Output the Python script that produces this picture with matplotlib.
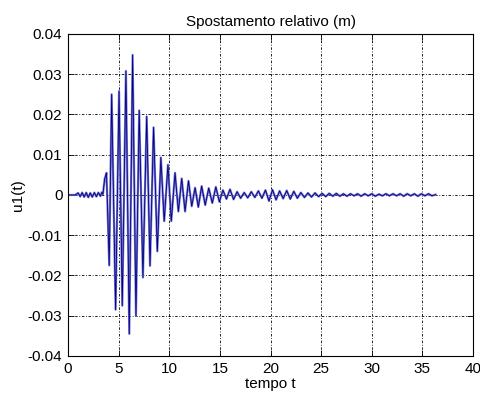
import matplotlib
matplotlib.use("Agg")
import matplotlib.pyplot as plt
import numpy as np

# extrema (time in s, displacement in m)
t_pts = [0.0, 0.7, 1.0, 1.2, 1.4, 1.6, 1.8, 2.0, 2.2, 2.4, 2.6, 2.8, 3.0, 3.2, 3.35, 3.45,
         3.62, 3.80, 4.07, 4.31, 4.70, 5.04, 5.36, 5.72, 6.05, 6.38, 6.71, 7.03, 7.40,
         7.77, 8.10, 8.45, 8.82, 9.17, 9.50, 9.87, 10.20, 10.57, 10.90, 11.23, 11.56,
         11.90, 12.22, 12.55, 12.87, 13.20, 13.55, 13.90, 14.25, 14.60, 14.95, 15.30,
         15.65, 16.00, 16.35, 16.70, 17.05, 17.40, 17.75, 18.10, 18.45, 18.80, 19.15,
         19.50, 19.85, 20.20, 20.55, 20.90, 21.25, 21.60, 21.95, 22.30, 22.65, 23.00,
         23.35, 23.70, 24.05, 24.40, 24.75, 25.10, 25.45, 25.80, 26.15, 26.50, 26.85,
         27.20, 27.55, 27.90, 28.25, 28.60, 28.95, 29.30, 29.65, 30.00, 30.35, 30.70,
         31.05, 31.40, 31.75, 32.10, 32.45, 32.80, 33.15, 33.50, 33.85, 34.20, 34.55,
         34.90, 35.25, 35.60, 35.95, 36.30]
u_pts = [0.0, 0.0, 0.0005, -0.0004, 0.0006, -0.0005, 0.0006, -0.0006, 0.0005, -0.0005, 0.0006, -0.0004, 0.0006, -0.0003, 0.0007, 0.0002,
         0.0040, 0.0055, -0.0175, 0.0250, -0.0285, 0.0258, -0.0275, 0.0308, -0.0345, 0.0348, -0.0300, 0.0210, -0.0205,
         0.0195, -0.0176, 0.0168, -0.0140, 0.0093, -0.0065, 0.0075, -0.0065, 0.0055, -0.0041, 0.0041, -0.0041,
         0.0035, -0.0028, 0.0018, -0.0030, 0.0022, -0.0025, 0.0017, -0.0020, 0.0020, -0.0017, 0.0012,
         -0.0010, 0.0014, -0.0011, 0.0008, -0.0008, 0.0006, -0.0007, 0.0008, -0.0006, 0.0010, -0.0008,
         0.0012, -0.0015, 0.0013, -0.0012, 0.0010, -0.0009, 0.0011, -0.0010, 0.0009, -0.0008, 0.0006,
         -0.0006, 0.0005, -0.0005, 0.0005, -0.0004, 0.0004, -0.0004, 0.0004, -0.0003, 0.0004, -0.0003,
         0.0003, -0.0003, 0.0003, -0.0002, 0.0003, -0.0003, 0.0003, -0.0002, 0.0003, -0.0003, 0.0002,
         -0.0002, 0.0003, -0.0002, 0.0003, -0.0002, 0.0003, -0.0003, 0.0003, -0.0002, 0.0003, -0.0003,
         0.0003, -0.0002, 0.0003, -0.0002, 0.0001]

x_ticks = [0, 5, 10, 15, 20, 25, 30, 35, 40]
y_ticks = [-0.04, -0.03, -0.02, -0.01, 0, 0.01, 0.02, 0.03, 0.04]
y_labels = ['-0.04', '-0.03', '-0.02', '-0.01', '0', '0.01', '0.02', '0.03', '0.04']

plt.rcParams['font.family'] = ['Liberation Sans', 'DejaVu Sans']

fig = plt.figure(figsize=(4.81, 3.97), dpi=100)
ax = fig.add_axes([0.1414, 0.1033, 0.842, 0.8111])

# light halo under the dark trace, like the old MATLAB rendering
ax.plot(t_pts, u_pts, color='#7676d2', lw=1.6)
ax.plot(t_pts, u_pts, color='#000080', lw=0.6)

ax.set_xlim(0, 40)
ax.set_ylim(-0.04, 0.04)
ax.set_xticks(x_ticks)
ax.set_yticks(y_ticks)
ax.set_yticklabels(y_labels)
ax.grid(True, color='black', lw=0.6, linestyle=(0, (3, 2, 1, 2)))
ax.tick_params(direction='in', length=4, top=True, right=True, labelsize=11, pad=4, width=0.6)
for s in ax.spines.values():
    s.set_linewidth(0.8)

ax.set_title('Spostamento relativo (m)', fontsize=11, pad=6)
ax.set_xlabel('tempo t', fontsize=11, labelpad=1)
ax.set_ylabel('u1(t)', fontsize=11, labelpad=2)

fig.savefig('out.png', dpi=100)
